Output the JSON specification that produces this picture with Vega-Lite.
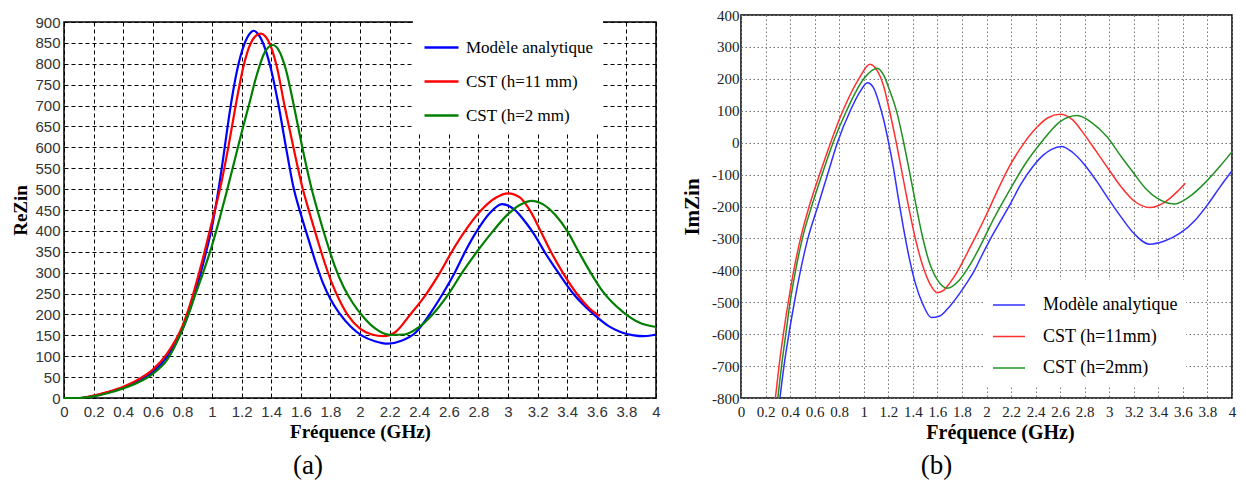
{
  "$schema": "https://vega.github.io/schema/vega-lite/v6.json",
  "background": "white",
  "padding": {"left": 11, "top": 7, "right": 5, "bottom": 5},
  "spacing": 18,
  "config": {
    "view": {"stroke": "black", "strokeWidth": 1.5},
    "axis": {"labelFlush": false, "labelOverlap": false, "ticks": false, "domain": false, "gridOpacity": 1}
  },
  "datasets": {
    "a": [
      {"f":0,"v":0,"s":"Modèle analytique"},{"f":0.1,"v":0,"s":"Modèle analytique"},{"f":0.2,"v":5,"s":"Modèle analytique"},{"f":0.3,"v":14,"s":"Modèle analytique"},{"f":0.4,"v":25,"s":"Modèle analytique"},{"f":0.5,"v":40,"s":"Modèle analytique"},{"f":0.6,"v":62,"s":"Modèle analytique"},{"f":0.7,"v":100,"s":"Modèle analytique"},{"f":0.8,"v":163,"s":"Modèle analytique"},{"f":0.85,"v":210,"s":"Modèle analytique"},{"f":0.9,"v":268,"s":"Modèle analytique"},{"f":0.95,"v":335,"s":"Modèle analytique"},{"f":1.0,"v":410,"s":"Modèle analytique"},{"f":1.04,"v":490,"s":"Modèle analytique"},{"f":1.08,"v":585,"s":"Modèle analytique"},{"f":1.12,"v":685,"s":"Modèle analytique"},{"f":1.17,"v":785,"s":"Modèle analytique"},{"f":1.22,"v":848,"s":"Modèle analytique"},{"f":1.26,"v":874,"s":"Modèle analytique"},{"f":1.28,"v":879,"s":"Modèle analytique"},{"f":1.31,"v":872,"s":"Modèle analytique"},{"f":1.35,"v":845,"s":"Modèle analytique"},{"f":1.4,"v":785,"s":"Modèle analytique"},{"f":1.45,"v":700,"s":"Modèle analytique"},{"f":1.5,"v":600,"s":"Modèle analytique"},{"f":1.55,"v":505,"s":"Modèle analytique"},{"f":1.6,"v":440,"s":"Modèle analytique"},{"f":1.65,"v":382,"s":"Modèle analytique"},{"f":1.7,"v":325,"s":"Modèle analytique"},{"f":1.75,"v":275,"s":"Modèle analytique"},{"f":1.8,"v":237,"s":"Modèle analytique"},{"f":1.86,"v":203,"s":"Modèle analytique"},{"f":1.94,"v":170,"s":"Modèle analytique"},{"f":2.01,"v":150,"s":"Modèle analytique"},{"f":2.1,"v":136,"s":"Modèle analytique"},{"f":2.19,"v":130,"s":"Modèle analytique"},{"f":2.28,"v":137,"s":"Modèle analytique"},{"f":2.38,"v":158,"s":"Modèle analytique"},{"f":2.47,"v":200,"s":"Modèle analytique"},{"f":2.56,"v":250,"s":"Modèle analytique"},{"f":2.64,"v":300,"s":"Modèle analytique"},{"f":2.71,"v":350,"s":"Modèle analytique"},{"f":2.79,"v":400,"s":"Modèle analytique"},{"f":2.87,"v":440,"s":"Modèle analytique"},{"f":2.96,"v":464,"s":"Modèle analytique"},{"f":3.04,"v":452,"s":"Modèle analytique"},{"f":3.12,"v":420,"s":"Modèle analytique"},{"f":3.18,"v":390,"s":"Modèle analytique"},{"f":3.25,"v":348,"s":"Modèle analytique"},{"f":3.34,"v":300,"s":"Modèle analytique"},{"f":3.44,"v":250,"s":"Modèle analytique"},{"f":3.58,"v":200,"s":"Modèle analytique"},{"f":3.68,"v":172,"s":"Modèle analytique"},{"f":3.76,"v":158,"s":"Modèle analytique"},{"f":3.85,"v":150,"s":"Modèle analytique"},{"f":3.92,"v":148,"s":"Modèle analytique"},{"f":4.0,"v":152,"s":"Modèle analytique"},
      {"f":0,"v":0,"s":"CST (h=11 mm)"},{"f":0.1,"v":0,"s":"CST (h=11 mm)"},{"f":0.2,"v":6,"s":"CST (h=11 mm)"},{"f":0.3,"v":15,"s":"CST (h=11 mm)"},{"f":0.4,"v":27,"s":"CST (h=11 mm)"},{"f":0.5,"v":44,"s":"CST (h=11 mm)"},{"f":0.6,"v":68,"s":"CST (h=11 mm)"},{"f":0.7,"v":108,"s":"CST (h=11 mm)"},{"f":0.8,"v":172,"s":"CST (h=11 mm)"},{"f":0.85,"v":222,"s":"CST (h=11 mm)"},{"f":0.9,"v":283,"s":"CST (h=11 mm)"},{"f":0.95,"v":350,"s":"CST (h=11 mm)"},{"f":1.0,"v":422,"s":"CST (h=11 mm)"},{"f":1.06,"v":510,"s":"CST (h=11 mm)"},{"f":1.11,"v":600,"s":"CST (h=11 mm)"},{"f":1.16,"v":700,"s":"CST (h=11 mm)"},{"f":1.21,"v":790,"s":"CST (h=11 mm)"},{"f":1.26,"v":848,"s":"CST (h=11 mm)"},{"f":1.3,"v":868,"s":"CST (h=11 mm)"},{"f":1.33,"v":872,"s":"CST (h=11 mm)"},{"f":1.36,"v":866,"s":"CST (h=11 mm)"},{"f":1.39,"v":848,"s":"CST (h=11 mm)"},{"f":1.44,"v":790,"s":"CST (h=11 mm)"},{"f":1.49,"v":700,"s":"CST (h=11 mm)"},{"f":1.55,"v":600,"s":"CST (h=11 mm)"},{"f":1.61,"v":505,"s":"CST (h=11 mm)"},{"f":1.66,"v":442,"s":"CST (h=11 mm)"},{"f":1.71,"v":382,"s":"CST (h=11 mm)"},{"f":1.76,"v":325,"s":"CST (h=11 mm)"},{"f":1.81,"v":275,"s":"CST (h=11 mm)"},{"f":1.86,"v":235,"s":"CST (h=11 mm)"},{"f":1.92,"v":197,"s":"CST (h=11 mm)"},{"f":2.0,"v":166,"s":"CST (h=11 mm)"},{"f":2.08,"v":152,"s":"CST (h=11 mm)"},{"f":2.16,"v":148,"s":"CST (h=11 mm)"},{"f":2.24,"v":158,"s":"CST (h=11 mm)"},{"f":2.34,"v":200,"s":"CST (h=11 mm)"},{"f":2.45,"v":250,"s":"CST (h=11 mm)"},{"f":2.54,"v":300,"s":"CST (h=11 mm)"},{"f":2.62,"v":350,"s":"CST (h=11 mm)"},{"f":2.71,"v":400,"s":"CST (h=11 mm)"},{"f":2.82,"v":450,"s":"CST (h=11 mm)"},{"f":2.92,"v":480,"s":"CST (h=11 mm)"},{"f":3.0,"v":490,"s":"CST (h=11 mm)"},{"f":3.08,"v":480,"s":"CST (h=11 mm)"},{"f":3.15,"v":448,"s":"CST (h=11 mm)"},{"f":3.22,"v":400,"s":"CST (h=11 mm)"},{"f":3.29,"v":350,"s":"CST (h=11 mm)"},{"f":3.37,"v":300,"s":"CST (h=11 mm)"},{"f":3.46,"v":252,"s":"CST (h=11 mm)"},{"f":3.55,"v":215,"s":"CST (h=11 mm)"},{"f":3.62,"v":196,"s":"CST (h=11 mm)"},
      {"f":0,"v":0,"s":"CST (h=2 mm)"},{"f":0.1,"v":0,"s":"CST (h=2 mm)"},{"f":0.2,"v":4,"s":"CST (h=2 mm)"},{"f":0.3,"v":12,"s":"CST (h=2 mm)"},{"f":0.4,"v":23,"s":"CST (h=2 mm)"},{"f":0.5,"v":37,"s":"CST (h=2 mm)"},{"f":0.6,"v":58,"s":"CST (h=2 mm)"},{"f":0.7,"v":93,"s":"CST (h=2 mm)"},{"f":0.78,"v":147,"s":"CST (h=2 mm)"},{"f":0.83,"v":190,"s":"CST (h=2 mm)"},{"f":0.88,"v":240,"s":"CST (h=2 mm)"},{"f":0.94,"v":300,"s":"CST (h=2 mm)"},{"f":1.0,"v":365,"s":"CST (h=2 mm)"},{"f":1.05,"v":428,"s":"CST (h=2 mm)"},{"f":1.1,"v":495,"s":"CST (h=2 mm)"},{"f":1.15,"v":565,"s":"CST (h=2 mm)"},{"f":1.2,"v":635,"s":"CST (h=2 mm)"},{"f":1.25,"v":702,"s":"CST (h=2 mm)"},{"f":1.3,"v":770,"s":"CST (h=2 mm)"},{"f":1.35,"v":823,"s":"CST (h=2 mm)"},{"f":1.41,"v":845,"s":"CST (h=2 mm)"},{"f":1.45,"v":833,"s":"CST (h=2 mm)"},{"f":1.5,"v":785,"s":"CST (h=2 mm)"},{"f":1.55,"v":705,"s":"CST (h=2 mm)"},{"f":1.61,"v":600,"s":"CST (h=2 mm)"},{"f":1.67,"v":505,"s":"CST (h=2 mm)"},{"f":1.72,"v":440,"s":"CST (h=2 mm)"},{"f":1.77,"v":380,"s":"CST (h=2 mm)"},{"f":1.83,"v":315,"s":"CST (h=2 mm)"},{"f":1.89,"v":265,"s":"CST (h=2 mm)"},{"f":1.95,"v":228,"s":"CST (h=2 mm)"},{"f":2.02,"v":195,"s":"CST (h=2 mm)"},{"f":2.1,"v":167,"s":"CST (h=2 mm)"},{"f":2.2,"v":151,"s":"CST (h=2 mm)"},{"f":2.3,"v":152,"s":"CST (h=2 mm)"},{"f":2.4,"v":170,"s":"CST (h=2 mm)"},{"f":2.49,"v":200,"s":"CST (h=2 mm)"},{"f":2.6,"v":250,"s":"CST (h=2 mm)"},{"f":2.69,"v":300,"s":"CST (h=2 mm)"},{"f":2.79,"v":350,"s":"CST (h=2 mm)"},{"f":2.9,"v":400,"s":"CST (h=2 mm)"},{"f":3.0,"v":440,"s":"CST (h=2 mm)"},{"f":3.08,"v":462,"s":"CST (h=2 mm)"},{"f":3.16,"v":472,"s":"CST (h=2 mm)"},{"f":3.24,"v":463,"s":"CST (h=2 mm)"},{"f":3.32,"v":438,"s":"CST (h=2 mm)"},{"f":3.4,"v":400,"s":"CST (h=2 mm)"},{"f":3.47,"v":355,"s":"CST (h=2 mm)"},{"f":3.55,"v":305,"s":"CST (h=2 mm)"},{"f":3.64,"v":255,"s":"CST (h=2 mm)"},{"f":3.78,"v":205,"s":"CST (h=2 mm)"},{"f":3.89,"v":180,"s":"CST (h=2 mm)"},{"f":4.0,"v":170,"s":"CST (h=2 mm)"}
    ],
    "b": [
      {"f":0.317,"v":-800,"s":"Modèle analytique"},{"f":0.35,"v":-700,"s":"Modèle analytique"},{"f":0.39,"v":-600,"s":"Modèle analytique"},{"f":0.435,"v":-500,"s":"Modèle analytique"},{"f":0.485,"v":-400,"s":"Modèle analytique"},{"f":0.545,"v":-300,"s":"Modèle analytique"},{"f":0.625,"v":-200,"s":"Modèle analytique"},{"f":0.705,"v":-100,"s":"Modèle analytique"},{"f":0.785,"v":0,"s":"Modèle analytique"},{"f":0.89,"v":100,"s":"Modèle analytique"},{"f":0.97,"v":160,"s":"Modèle analytique"},{"f":1.03,"v":188,"s":"Modèle analytique"},{"f":1.08,"v":172,"s":"Modèle analytique"},{"f":1.12,"v":130,"s":"Modèle analytique"},{"f":1.16,"v":75,"s":"Modèle analytique"},{"f":1.2,"v":5,"s":"Modèle analytique"},{"f":1.24,"v":-75,"s":"Modèle analytique"},{"f":1.28,"v":-170,"s":"Modèle analytique"},{"f":1.32,"v":-260,"s":"Modèle analytique"},{"f":1.37,"v":-360,"s":"Modèle analytique"},{"f":1.42,"v":-440,"s":"Modèle analytique"},{"f":1.48,"v":-505,"s":"Modèle analytique"},{"f":1.55,"v":-548,"s":"Modèle analytique"},{"f":1.62,"v":-543,"s":"Modèle analytique"},{"f":1.7,"v":-513,"s":"Modèle analytique"},{"f":1.76,"v":-484,"s":"Modèle analytique"},{"f":1.83,"v":-445,"s":"Modèle analytique"},{"f":1.9,"v":-402,"s":"Modèle analytique"},{"f":1.96,"v":-355,"s":"Modèle analytique"},{"f":2.03,"v":-303,"s":"Modèle analytique"},{"f":2.12,"v":-242,"s":"Modèle analytique"},{"f":2.19,"v":-195,"s":"Modèle analytique"},{"f":2.28,"v":-130,"s":"Modèle analytique"},{"f":2.38,"v":-74,"s":"Modèle analytique"},{"f":2.46,"v":-40,"s":"Modèle analytique"},{"f":2.53,"v":-21,"s":"Modèle analytique"},{"f":2.61,"v":-12,"s":"Modèle analytique"},{"f":2.7,"v":-30,"s":"Modèle analytique"},{"f":2.79,"v":-65,"s":"Modèle analytique"},{"f":2.9,"v":-122,"s":"Modèle analytique"},{"f":3.0,"v":-180,"s":"Modèle analytique"},{"f":3.1,"v":-235,"s":"Modèle analytique"},{"f":3.2,"v":-284,"s":"Modèle analytique"},{"f":3.33,"v":-318,"s":"Modèle analytique"},{"f":3.45,"v":-308,"s":"Modèle analytique"},{"f":3.58,"v":-283,"s":"Modèle analytique"},{"f":3.7,"v":-243,"s":"Modèle analytique"},{"f":3.8,"v":-195,"s":"Modèle analytique"},{"f":3.9,"v":-140,"s":"Modèle analytique"},{"f":4.0,"v":-88,"s":"Modèle analytique"},
      {"f":0.28,"v":-800,"s":"CST (h=11mm)"},{"f":0.31,"v":-700,"s":"CST (h=11mm)"},{"f":0.345,"v":-600,"s":"CST (h=11mm)"},{"f":0.385,"v":-500,"s":"CST (h=11mm)"},{"f":0.43,"v":-400,"s":"CST (h=11mm)"},{"f":0.485,"v":-300,"s":"CST (h=11mm)"},{"f":0.555,"v":-200,"s":"CST (h=11mm)"},{"f":0.64,"v":-100,"s":"CST (h=11mm)"},{"f":0.73,"v":0,"s":"CST (h=11mm)"},{"f":0.83,"v":100,"s":"CST (h=11mm)"},{"f":0.96,"v":200,"s":"CST (h=11mm)"},{"f":1.05,"v":246,"s":"CST (h=11mm)"},{"f":1.11,"v":226,"s":"CST (h=11mm)"},{"f":1.16,"v":180,"s":"CST (h=11mm)"},{"f":1.21,"v":100,"s":"CST (h=11mm)"},{"f":1.265,"v":0,"s":"CST (h=11mm)"},{"f":1.315,"v":-100,"s":"CST (h=11mm)"},{"f":1.365,"v":-200,"s":"CST (h=11mm)"},{"f":1.42,"v":-300,"s":"CST (h=11mm)"},{"f":1.48,"v":-385,"s":"CST (h=11mm)"},{"f":1.54,"v":-443,"s":"CST (h=11mm)"},{"f":1.6,"v":-470,"s":"CST (h=11mm)"},{"f":1.65,"v":-463,"s":"CST (h=11mm)"},{"f":1.7,"v":-440,"s":"CST (h=11mm)"},{"f":1.75,"v":-412,"s":"CST (h=11mm)"},{"f":1.8,"v":-378,"s":"CST (h=11mm)"},{"f":1.86,"v":-333,"s":"CST (h=11mm)"},{"f":1.92,"v":-288,"s":"CST (h=11mm)"},{"f":2.0,"v":-225,"s":"CST (h=11mm)"},{"f":2.08,"v":-158,"s":"CST (h=11mm)"},{"f":2.19,"v":-72,"s":"CST (h=11mm)"},{"f":2.29,"v":-10,"s":"CST (h=11mm)"},{"f":2.41,"v":48,"s":"CST (h=11mm)"},{"f":2.5,"v":78,"s":"CST (h=11mm)"},{"f":2.6,"v":89,"s":"CST (h=11mm)"},{"f":2.7,"v":72,"s":"CST (h=11mm)"},{"f":2.79,"v":29,"s":"CST (h=11mm)"},{"f":2.89,"v":-25,"s":"CST (h=11mm)"},{"f":2.98,"v":-75,"s":"CST (h=11mm)"},{"f":3.1,"v":-140,"s":"CST (h=11mm)"},{"f":3.2,"v":-182,"s":"CST (h=11mm)"},{"f":3.33,"v":-203,"s":"CST (h=11mm)"},{"f":3.45,"v":-187,"s":"CST (h=11mm)"},{"f":3.55,"v":-155,"s":"CST (h=11mm)"},{"f":3.62,"v":-127,"s":"CST (h=11mm)"},
      {"f":0.3,"v":-800,"s":"CST (h=2mm)"},{"f":0.33,"v":-700,"s":"CST (h=2mm)"},{"f":0.365,"v":-600,"s":"CST (h=2mm)"},{"f":0.4,"v":-500,"s":"CST (h=2mm)"},{"f":0.445,"v":-400,"s":"CST (h=2mm)"},{"f":0.5,"v":-300,"s":"CST (h=2mm)"},{"f":0.575,"v":-200,"s":"CST (h=2mm)"},{"f":0.66,"v":-100,"s":"CST (h=2mm)"},{"f":0.75,"v":0,"s":"CST (h=2mm)"},{"f":0.86,"v":100,"s":"CST (h=2mm)"},{"f":1.0,"v":200,"s":"CST (h=2mm)"},{"f":1.11,"v":233,"s":"CST (h=2mm)"},{"f":1.16,"v":213,"s":"CST (h=2mm)"},{"f":1.21,"v":165,"s":"CST (h=2mm)"},{"f":1.27,"v":95,"s":"CST (h=2mm)"},{"f":1.32,"v":10,"s":"CST (h=2mm)"},{"f":1.37,"v":-85,"s":"CST (h=2mm)"},{"f":1.42,"v":-185,"s":"CST (h=2mm)"},{"f":1.47,"v":-280,"s":"CST (h=2mm)"},{"f":1.53,"v":-370,"s":"CST (h=2mm)"},{"f":1.6,"v":-430,"s":"CST (h=2mm)"},{"f":1.68,"v":-456,"s":"CST (h=2mm)"},{"f":1.78,"v":-430,"s":"CST (h=2mm)"},{"f":1.87,"v":-380,"s":"CST (h=2mm)"},{"f":1.97,"v":-308,"s":"CST (h=2mm)"},{"f":2.05,"v":-245,"s":"CST (h=2mm)"},{"f":2.19,"v":-148,"s":"CST (h=2mm)"},{"f":2.31,"v":-70,"s":"CST (h=2mm)"},{"f":2.44,"v":-2,"s":"CST (h=2mm)"},{"f":2.6,"v":66,"s":"CST (h=2mm)"},{"f":2.74,"v":85,"s":"CST (h=2mm)"},{"f":2.86,"v":62,"s":"CST (h=2mm)"},{"f":2.98,"v":19,"s":"CST (h=2mm)"},{"f":3.1,"v":-45,"s":"CST (h=2mm)"},{"f":3.2,"v":-96,"s":"CST (h=2mm)"},{"f":3.3,"v":-145,"s":"CST (h=2mm)"},{"f":3.39,"v":-174,"s":"CST (h=2mm)"},{"f":3.53,"v":-192,"s":"CST (h=2mm)"},{"f":3.65,"v":-170,"s":"CST (h=2mm)"},{"f":3.79,"v":-122,"s":"CST (h=2mm)"},{"f":3.9,"v":-75,"s":"CST (h=2mm)"},{"f":4.0,"v":-28,"s":"CST (h=2mm)"}
    ]
  },
  "resolve": {"scale": {"color": "independent"}, "legend": {"color": "independent"}},
  "hconcat": [
    {
      "bounds": "flush",
      "spacing": 0,
      "vconcat": [
        {
          "data": {"values": []},
          "mark": "point",
          "width": 592,
          "height": 7,
          "view": {"stroke": null}
        },
        {
          "data": {"name": "a"},
          "width": 592,
          "height": 376,
          "title": {"text": "(a)", "orient": "bottom", "frame": "group", "font": "Liberation Serif", "fontSize": 27, "fontWeight": "normal", "color": "black", "dx": -52, "offset": 12},
          "mark": {"type": "line", "interpolate": "monotone", "strokeWidth": 2.2},
          "encoding": {
            "x": {"field": "f", "type": "quantitative", "scale": {"domain": [0, 4], "nice": false},
              "axis": {"title": "Fréquence (GHz)", "tickCount": 20, "format": ".1~f", "grid": true, "gridColor": "black", "gridDash": [4, 3], "gridWidth": 1,
                "labelFont": "Liberation Sans", "labelFontSize": 15, "labelColor": "#333", "labelPadding": 6,
                "titleFont": "Liberation Serif", "titleFontSize": 19, "titleFontWeight": "bold", "titleColor": "black", "titlePadding": 3}},
            "y": {"field": "v", "type": "quantitative", "scale": {"domain": [0, 900], "nice": false},
              "axis": {"title": "ReZin", "tickCount": 18, "grid": true, "gridColor": "black", "gridDash": [4, 3], "gridWidth": 1,
                "labelFont": "Liberation Sans", "labelFontSize": 15, "labelColor": "#333", "labelPadding": 4,
                "titleFont": "Liberation Serif", "titleFontSize": 19, "titleFontWeight": "bold", "titleColor": "black", "titlePadding": 4}},
            "color": {"field": "s", "type": "nominal",
              "scale": {"domain": ["Modèle analytique", "CST (h=11 mm)", "CST (h=2 mm)"], "range": ["#0000ff", "#ff0000", "#007f00"]},
              "legend": {"orient": "none", "legendX": 349, "legendY": 1, "title": " ", "titleFontSize": 1, "titlePadding": 2, "fillColor": "white", "padding": 10,
                "symbolType": "stroke", "symbolSize": 1156, "symbolStrokeWidth": 2.5, "rowPadding": 7,
                "labelFont": "Liberation Serif", "labelFontSize": 17, "labelColor": "black", "labelOffset": 6, "labelLimit": 300}}
          }
        }
      ]
    },
    {
      "data": {"name": "b"},
      "width": 491,
      "height": 383,
      "title": {"text": "(b)", "orient": "bottom", "frame": "group", "font": "Liberation Serif", "fontSize": 27, "fontWeight": "normal", "color": "black", "dx": -50, "offset": 11},
      "mark": {"type": "line", "interpolate": "monotone", "strokeWidth": 1.5, "clip": true},
      "encoding": {
        "x": {"field": "f", "type": "quantitative", "scale": {"domain": [0, 4], "nice": false},
          "axis": {"title": "Fréquence (GHz)", "titleX": 259, "tickCount": 20, "format": ".1~f", "grid": true, "gridColor": "#777", "gridDash": [1.5, 2.5], "gridWidth": 1,
            "labelFont": "Liberation Serif", "labelFontSize": 15, "labelColor": "#222", "labelPadding": 6,
            "titleFont": "Liberation Serif", "titleFontSize": 20, "titleFontWeight": "bold", "titleColor": "black", "titlePadding": 3}},
        "y": {"field": "v", "type": "quantitative", "scale": {"domain": [-800, 400], "nice": false},
          "axis": {"title": "ImZin", "tickCount": 12, "labelExpr": "'' + datum.value", "grid": true, "gridColor": "#777", "gridDash": [1.5, 2.5], "gridWidth": 1,
            "labelFont": "Liberation Serif", "labelFontSize": 15, "labelColor": "#222", "labelPadding": 2,
            "titleFont": "Liberation Serif", "titleFontSize": 21, "titleFontWeight": "bold", "titleColor": "black", "titlePadding": 9}},
        "color": {"field": "s", "type": "nominal",
          "scale": {"domain": ["Modèle analytique", "CST (h=11mm)", "CST (h=2mm)"], "range": ["#3030ff", "#ff3030", "#229022"]},
          "legend": {"orient": "none", "legendX": 243, "legendY": 265, "title": null, "fillColor": "white", "padding": 8,
            "symbolType": "stroke", "symbolSize": 1024, "symbolStrokeWidth": 1.5, "rowPadding": 5.5,
            "labelFont": "Liberation Serif", "labelFontSize": 18, "labelColor": "black", "labelOffset": 17, "labelLimit": 300}}
      }
    }
  ]
}
